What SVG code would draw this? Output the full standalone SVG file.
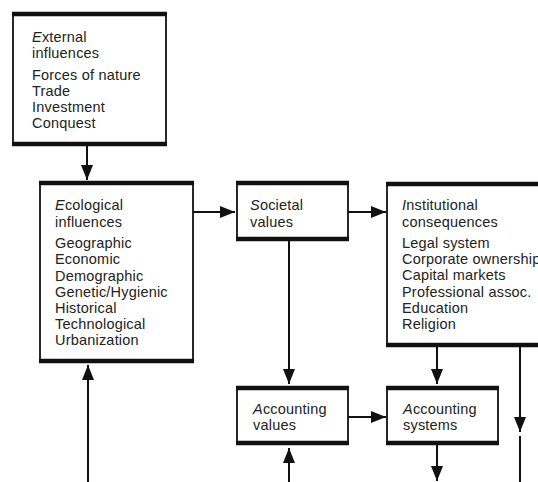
<svg xmlns="http://www.w3.org/2000/svg" width="538" height="482" viewBox="0 0 538 482">
<style>
.box{fill:#fff;stroke:#111;stroke-width:1.8}
.bar{stroke:#111;stroke-width:4.5}
.t{font-family:"Liberation Sans",Arial,sans-serif;font-size:14.5px;fill:#222;letter-spacing:0.2px}
.c{stroke:#111;stroke-width:2;fill:none}
</style>
<defs>
<marker id="ah" markerUnits="userSpaceOnUse" markerWidth="15" markerHeight="12" refX="15" refY="6" orient="auto">
<path d="M0,0 L15,6 L0,12 Z" fill="#111"/>
</marker>
</defs>
<g id="connectors">
<line class="c" x1="87" y1="146" x2="87" y2="180" marker-end="url(#ah)"/>
<line class="c" x1="193" y1="212" x2="235" y2="212" marker-end="url(#ah)"/>
<line class="c" x1="348" y1="212" x2="386" y2="212" marker-end="url(#ah)"/>
<line class="c" x1="289" y1="241" x2="289" y2="384" marker-end="url(#ah)"/>
<line class="c" x1="348" y1="417" x2="386" y2="417" marker-end="url(#ah)"/>
<line class="c" x1="437" y1="347" x2="437" y2="384" marker-end="url(#ah)"/>
<line class="c" x1="520" y1="347" x2="520" y2="432" marker-end="url(#ah)"/>
<line class="c" x1="520" y1="436" x2="520" y2="482"/>
<line class="c" x1="437" y1="445" x2="437" y2="481" marker-end="url(#ah)"/>
<line class="c" x1="289" y1="482" x2="289" y2="448" marker-end="url(#ah)"/>
<line class="c" x1="88" y1="482" x2="88" y2="365" marker-end="url(#ah)"/>
</g>
<g id="external">
<rect class="box" x="13" y="13" width="153" height="132"/>
<line class="bar" x1="12" y1="14" x2="167" y2="14"/>
<line class="bar" x1="12" y1="144" x2="167" y2="144"/>
<text class="t" x="32" y="42"><tspan font-style="italic">E</tspan>xternal</text>
<text class="t" x="32" y="58">influences</text>
<text class="t" x="32" y="80">Forces of nature</text>
<text class="t" x="32" y="96">Trade</text>
<text class="t" x="32" y="112">Investment</text>
<text class="t" x="32" y="128">Conquest</text>
</g>
<g id="ecological">
<rect class="box" x="40" y="182" width="153" height="180"/>
<line class="bar" x1="39" y1="183" x2="194" y2="183"/>
<line class="bar" x1="39" y1="361" x2="194" y2="361"/>
<text class="t" x="55" y="210"><tspan font-style="italic">E</tspan>cological</text>
<text class="t" x="55" y="227">influences</text>
<text class="t" x="55" y="248">Geographic</text>
<text class="t" x="55" y="264">Economic</text>
<text class="t" x="55" y="281">Demographic</text>
<text class="t" x="55" y="297">Genetic/Hygienic</text>
<text class="t" x="55" y="313">Historical</text>
<text class="t" x="55" y="329">Technological</text>
<text class="t" x="55" y="345">Urbanization</text>
</g>
<g id="societal">
<rect class="box" x="237" y="182" width="111" height="58"/>
<line class="bar" x1="236" y1="183" x2="349" y2="183"/>
<line class="bar" x1="236" y1="239" x2="349" y2="239"/>
<text class="t" x="250" y="210"><tspan font-style="italic">S</tspan>ocietal</text>
<text class="t" x="250" y="227">values</text>
</g>
<g id="institutional">
<rect class="box" x="387" y="183" width="160" height="163"/>
<line class="bar" x1="386" y1="184" x2="548" y2="184"/>
<line class="bar" x1="386" y1="345" x2="548" y2="345"/>
<text class="t" x="402" y="210"><tspan font-style="italic">I</tspan>nstitutional</text>
<text class="t" x="402" y="227">consequences</text>
<text class="t" x="402" y="248">Legal system</text>
<text class="t" x="402" y="264">Corporate ownership</text>
<text class="t" x="402" y="280">Capital markets</text>
<text class="t" x="402" y="297">Professional assoc.</text>
<text class="t" x="402" y="313">Education</text>
<text class="t" x="402" y="329">Religion</text>
</g>
<g id="accounting-values">
<rect class="box" x="237" y="387" width="111" height="57"/>
<line class="bar" x1="236" y1="388" x2="349" y2="388"/>
<line class="bar" x1="236" y1="443" x2="349" y2="443"/>
<text class="t" x="253" y="414"><tspan font-style="italic">A</tspan>ccounting</text>
<text class="t" x="253" y="430">values</text>
</g>
<g id="accounting-systems">
<rect class="box" x="387" y="387" width="111" height="57"/>
<line class="bar" x1="386" y1="388" x2="499" y2="388"/>
<line class="bar" x1="386" y1="443" x2="499" y2="443"/>
<text class="t" x="403" y="414"><tspan font-style="italic">A</tspan>ccounting</text>
<text class="t" x="403" y="430">systems</text>
</g>
</svg>
